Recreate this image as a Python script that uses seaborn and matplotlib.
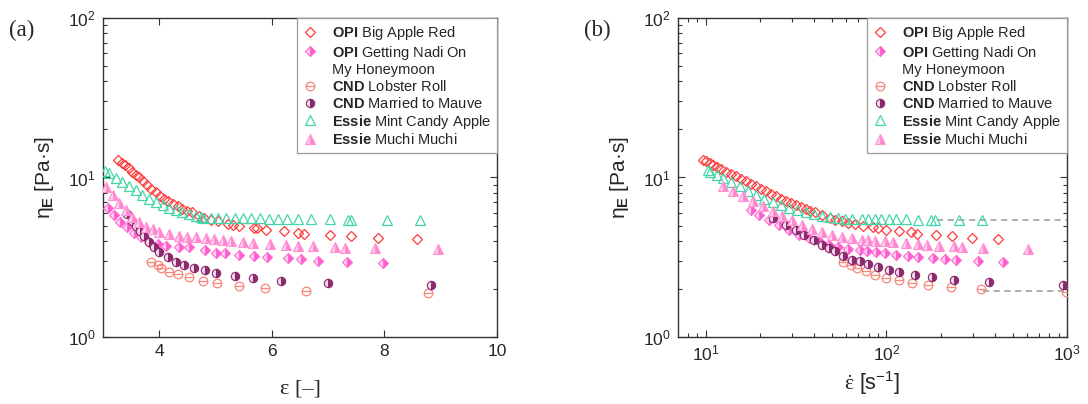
import numpy as np
import pandas as pd
import matplotlib
matplotlib.use("Agg")
import matplotlib.pyplot as plt
import seaborn as sns
from matplotlib.path import Path
from matplotlib.lines import Line2D
from matplotlib.ticker import LogLocator, LogFormatterSciNotation, NullFormatter, FixedLocator

# ---------------- data ----------------
# panel (a): eta_E vs Hencky strain
red_strain = [3.26, 3.33, 3.39, 3.46, 3.52, 3.58, 3.64, 3.71, 3.79, 3.86, 3.94, 4.01, 4.09, 4.16, 4.24, 4.33,
              4.41, 4.50, 4.58, 4.71, 4.80, 4.92, 5.04, 5.22, 5.31, 5.42, 5.69, 5.73, 5.90, 6.21, 6.46, 6.57,
              7.03, 7.41, 7.89, 8.57]
red_eta_a = [12.8, 12.4, 12.0, 11.5, 10.9, 10.4, 10.0, 9.46, 8.93, 8.47, 8.07, 7.69, 7.33, 7.09, 6.82, 6.59,
             6.35, 6.20, 6.05, 5.76, 5.54, 5.39, 5.31, 5.13, 5.06, 4.94, 4.85, 4.80, 4.71, 4.60, 4.49, 4.42,
             4.36, 4.28, 4.20, 4.11]

nadi_strain = [3.08, 3.20, 3.31, 3.43, 3.55, 3.67, 3.82, 3.97, 4.12, 4.35, 4.53, 4.82, 5.01, 5.17, 5.42, 5.68,
               5.92, 6.29, 6.52, 6.82, 7.33, 7.97]
nadi_eta_a = [6.41, 5.82, 5.29, 4.87, 4.51, 4.26, 3.96, 3.83, 3.72, 3.68, 3.65, 3.51, 3.38, 3.35, 3.27, 3.22,
              3.19, 3.11, 3.07, 3.01, 2.94, 2.90]

lobster_strain = [3.85, 3.97, 4.03, 4.18, 4.34, 4.52, 4.78, 5.02, 5.41, 5.88, 6.60, 8.78]
lobster_eta_a = [2.97, 2.83, 2.70, 2.57, 2.47, 2.37, 2.25, 2.17, 2.10, 2.02, 1.95, 1.90]

mauve_strain = [3.43, 3.52, 3.58, 3.65, 3.73, 3.82, 3.91, 4.00, 4.15, 4.30, 4.44, 4.61, 4.82, 5.01, 5.34, 5.66,
                6.17, 7.00, 8.83]
mauve_eta_a = [5.90, 5.34, 4.97, 4.64, 4.30, 3.92, 3.65, 3.43, 3.16, 2.97, 2.83, 2.72, 2.63, 2.53, 2.42, 2.36,
               2.25, 2.19, 2.12]

mint_strain = [3.04, 3.11, 3.23, 3.34, 3.46, 3.58, 3.70, 3.82, 3.94, 4.06, 4.18, 4.30, 4.41, 4.53, 4.65, 4.74,
               4.78, 4.92, 5.04, 5.19, 5.34, 5.48, 5.63, 5.79, 5.95, 6.11, 6.27, 6.46, 6.70, 7.03, 7.36, 7.41,
               8.04, 8.63]
mint_eta_a = [11.0, 10.7, 9.93, 9.33, 8.80, 8.31, 7.80, 7.36, 7.02, 6.69, 6.44, 6.22, 6.05, 5.90, 5.76, 5.65,
              5.60, 5.58, 5.56, 5.55, 5.55, 5.55, 5.55, 5.55, 5.53, 5.52, 5.52, 5.50, 5.48, 5.47, 5.45, 5.45,
              5.43, 5.43]

muchi_strain = [3.05, 3.17, 3.29, 3.40, 3.52, 3.64, 3.76, 3.88, 4.00, 4.18, 4.35, 4.50, 4.65, 4.83, 4.98, 5.13,
                5.28, 5.48, 5.66, 5.96, 6.26, 6.46, 6.73, 7.12, 7.30, 7.83, 8.96]
muchi_eta_a = [8.77, 7.77, 6.89, 6.25, 5.68, 5.28, 4.92, 4.73, 4.57, 4.42, 4.32, 4.26, 4.22, 4.16, 4.12, 4.05,
               4.00, 3.92, 3.87, 3.81, 3.77, 3.74, 3.72, 3.65, 3.63, 3.60, 3.55]

# panel (b): eta_E vs strain rate
red_rate = [9.7, 10.1, 10.6, 11.0, 11.5, 12.2, 13.0, 13.9, 14.8, 15.7, 16.8, 17.9, 19.0, 20.3, 21.6, 23.0,
            24.5, 26.1, 27.8, 29.6, 31.5, 33.5, 35.7, 38.0, 40.5, 44.1, 48.9, 52.1, 56.7, 61.7, 67.1, 74.5,
            84.5, 90.0, 100, 118, 137, 147, 188, 232, 298, 415]
red_eta_b = [12.9, 12.6, 12.3, 12.0, 11.7, 11.3, 10.9, 10.5, 10.2, 9.84, 9.46, 9.10, 8.80, 8.51, 8.19, 7.92,
             7.62, 7.36, 7.16, 6.92, 6.69, 6.53, 6.38, 6.20, 6.05, 5.85, 5.57, 5.44, 5.31, 5.19, 5.13, 4.99,
             4.89, 4.82, 4.71, 4.59, 4.53, 4.44, 4.34, 4.28, 4.17, 4.11]

nadi_rate = [17.9, 19.8, 22.5, 25.5, 29.0, 32.8, 37.2, 42.3, 48.0, 54.3, 61.7, 71.4, 77.8, 88.2, 98.0, 113,
             131, 149, 182, 210, 244, 320, 444]
nadi_eta_b = [6.29, 5.85, 5.44, 5.06, 4.71, 4.38, 4.18, 3.98, 3.79, 3.65, 3.56, 3.51, 3.48, 3.41, 3.36, 3.28,
              3.24, 3.17, 3.11, 3.08, 3.03, 2.98, 2.94]

lobster_rate = [57.9, 63.8, 69.1, 76.7, 87.1, 100, 117, 138, 171, 227, 336, 988]
lobster_eta_b = [2.97, 2.83, 2.70, 2.58, 2.46, 2.34, 2.29, 2.18, 2.11, 2.06, 2.00, 1.91]

mauve_rate = [23.5, 27.8, 31.5, 35.0, 39.7, 44.1, 48.0, 52.1, 57.9, 64.3, 71.4, 79.4, 90.0, 103.5, 118, 145,
              178, 237, 371, 946]
mauve_eta_b = [5.57, 5.06, 4.71, 4.38, 4.08, 3.79, 3.61, 3.44, 3.20, 3.05, 2.98, 2.88, 2.75, 2.64, 2.54, 2.46,
               2.37, 2.29, 2.20, 2.13]

mint_rate = [10.3, 10.6, 11.5, 12.5, 13.9, 15.4, 17.1, 19.0, 21.1, 23.5, 26.1, 29.0, 32.1, 35.7, 39.7, 44.1,
             48.9, 54.3, 59.2, 64.3, 72.9, 79.4, 86.4, 93.9, 103.5, 113.5, 127.7, 149, 176, 185, 252, 338]
mint_eta_b = [11.1, 10.9, 10.4, 9.93, 9.32, 8.80, 8.27, 7.80, 7.36, 6.98, 6.69, 6.43, 6.22, 6.05, 5.87, 5.76,
              5.65, 5.55, 5.52, 5.50, 5.49, 5.49, 5.49, 5.49, 5.49, 5.49, 5.47, 5.45, 5.45, 5.45, 5.45, 5.42]

muchi_rate = [12.5, 14.2, 16.1, 18.2, 20.7, 23.5, 26.6, 30.2, 34.2, 38.8, 44.1, 50.0, 56.7, 64.3, 72.9, 79.4,
              86.4, 98.0, 109, 129, 149, 169, 196, 237, 263, 345, 609]
muchi_eta_b = [8.80, 8.19, 7.62, 7.09, 6.59, 6.14, 5.71, 5.39, 5.06, 4.78, 4.55, 4.34, 4.24, 4.16, 4.08, 4.04,
               4.02, 3.98, 3.94, 3.88, 3.83, 3.79, 3.73, 3.70, 3.67, 3.59, 3.56]

# plateau (dashed) guide lines in panel (b)
upper_plateau_rate = [190, 1000]
upper_plateau_eta = [5.42, 5.42]
lower_plateau_rate = [345, 1000]
lower_plateau_eta = [1.93, 1.93]

labels = [r'$\bf{OPI}$ Big Apple Red',
          r'$\bf{OPI}$ Getting Nadi On',
          r'$\bf{CND}$ Lobster Roll',
          r'$\bf{CND}$ Married to Mauve',
          r'$\bf{Essie}$ Mint Candy Apple',
          r'$\bf{Essie}$ Muchi Muchi']
continuation_label = 'My Honeymoon'

# ---------------- style ----------------
sns.set_style("ticks")
plt.rcParams['font.family'] = ['Liberation Sans', 'DejaVu Sans']
plt.rcParams['mathtext.fontset'] = 'custom'
plt.rcParams['mathtext.rm'] = 'Liberation Serif'
plt.rcParams['mathtext.bf'] = 'Liberation Sans:bold'
plt.rcParams['mathtext.it'] = 'Liberation Sans:italic'

lob_marker = Path.make_compound_path(Path.unit_circle(),
                                     Path([[-1.0, 0.0], [1.0, 0.0]], [Path.MOVETO, Path.LINETO]))

styles = [
    dict(marker='D', ms=4.8, mfc='none', mec='#ff3b3b', mew=0.9, color='#ff3b3b'),
    dict(marker='D', ms=4.8, fillstyle='right', mfc='#ff5cce', markerfacecoloralt='#ffd3ef',
         mec='#ff6ad2', mew=0.8, color='#ff5cce'),
    dict(marker=lob_marker, ms=6.2, mfc='none', mec='#f8867b', mew=0.9, color='#f8867b'),
    dict(marker='o', ms=6.0, fillstyle='right', mfc='#8c2a6e', markerfacecoloralt='#f1dcea',
         mec='#8c2a6e', mew=0.8, color='#8c2a6e'),
    dict(marker='^', ms=6.6, mfc='none', mec='#45d6a8', mew=0.9, color='#45d6a8'),
    dict(marker='^', ms=6.6, fillstyle='right', mfc='#ff86cf', markerfacecoloralt='#ffd0ec',
         mec='#ff90d4', mew=0.8, color='#ff86cf'),
]

series_a = [(red_strain, red_eta_a), (nadi_strain, nadi_eta_a), (lobster_strain, lobster_eta_a),
            (mauve_strain, mauve_eta_a), (mint_strain, mint_eta_a), (muchi_strain, muchi_eta_a)]
series_b = [(red_rate, red_eta_b), (nadi_rate, nadi_eta_b), (lobster_rate, lobster_eta_b),
            (mauve_rate, mauve_eta_b), (mint_rate, mint_eta_b), (muchi_rate, muchi_eta_b)]

fig = plt.figure(figsize=(10.88, 4.04), dpi=100)
ax1 = fig.add_axes([103 / 1088, 67 / 404, 394 / 1088, 319 / 404])
ax2 = fig.add_axes([678 / 1088, 67 / 404, 389 / 1088, 319 / 404])

for ax, series in ((ax1, series_a), (ax2, series_b)):
    if ax is ax2:
        sns.lineplot(x=upper_plateau_rate, y=upper_plateau_eta, ax=ax, color='#999999',
                     linestyle=(0, (4, 3)), lw=1.1, estimator=None, sort=False, zorder=1)
        sns.lineplot(x=lower_plateau_rate, y=lower_plateau_eta, ax=ax, color='#999999',
                     linestyle=(0, (4, 3)), lw=1.1, estimator=None, sort=False, zorder=1)
    handles = []
    for (x, y), st, lab in zip(series, styles, labels):
        n0 = len(ax.lines)
        sns.lineplot(x=x, y=y, ax=ax, estimator=None, sort=False, linestyle='none',
                     label=lab, zorder=3, **st)
        handles.append(ax.lines[n0])
    blank = Line2D([], [], linestyle='none', marker=None)
    leg_handles = [handles[0], handles[1], blank] + handles[2:]
    leg_labels = [labels[0], labels[1], continuation_label] + labels[2:]

    ax.set_yscale('log')
    ax.set_ylim(1, 100)
    ax.yaxis.set_major_locator(LogLocator(base=10, numticks=10))
    ax.yaxis.set_minor_locator(LogLocator(base=10, subs=np.arange(2, 10), numticks=10))
    ax.yaxis.set_major_formatter(LogFormatterSciNotation())
    ax.yaxis.set_minor_formatter(NullFormatter())
    ax.tick_params(which='both', direction='in', top=True, right=True, labelsize=12.5,
                   color='#333333', width=0.8)
    ax.tick_params(which='major', length=5, pad=5)
    ax.tick_params(which='minor', length=3)
    for sp in ax.spines.values():
        sp.set_linewidth(1.0)
        sp.set_color('#333333')
    ax.set_ylabel(r'η$_{\bf{E}}$ [Pa·s]', fontsize=15, labelpad=9)
    leg = ax.legend(handles=leg_handles, labels=leg_labels, loc='upper right', borderaxespad=0,
                    fancybox=False, framealpha=1, edgecolor='#9a9a9a', fontsize=10.5,
                    handlelength=1.0, handletextpad=1.0, borderpad=0.4, labelspacing=0.12)
    leg.get_frame().set_linewidth(0.9)

ax1.set_xlim(3, 10)
ax1.xaxis.set_major_locator(FixedLocator([4, 6, 8, 10]))
ax1.set_xlabel('ε [–]', fontsize=16, family='Liberation Serif', labelpad=15)

ax2.set_xscale('log')
ax2.set_xlim(7.03, 1000)
ax2.xaxis.set_major_locator(LogLocator(base=10, numticks=10))
ax2.xaxis.set_minor_locator(LogLocator(base=10, subs=np.arange(2, 10), numticks=10))
ax2.xaxis.set_major_formatter(LogFormatterSciNotation())
ax2.xaxis.set_minor_formatter(NullFormatter())
ax2.set_xlabel(r'$\dot{\mathrm{ε}}$ [s$^{\mathdefault{-1}}$]', fontsize=15.5, labelpad=4)

fig.text(22 / 1088, 1 - 30 / 404, '(a)', fontsize=16.5, family='Liberation Serif', ha='center', va='center')
fig.text(597 / 1088, 1 - 30 / 404, '(b)', fontsize=16.5, family='Liberation Serif', ha='center', va='center')

fig.savefig('out.png', dpi=100)
